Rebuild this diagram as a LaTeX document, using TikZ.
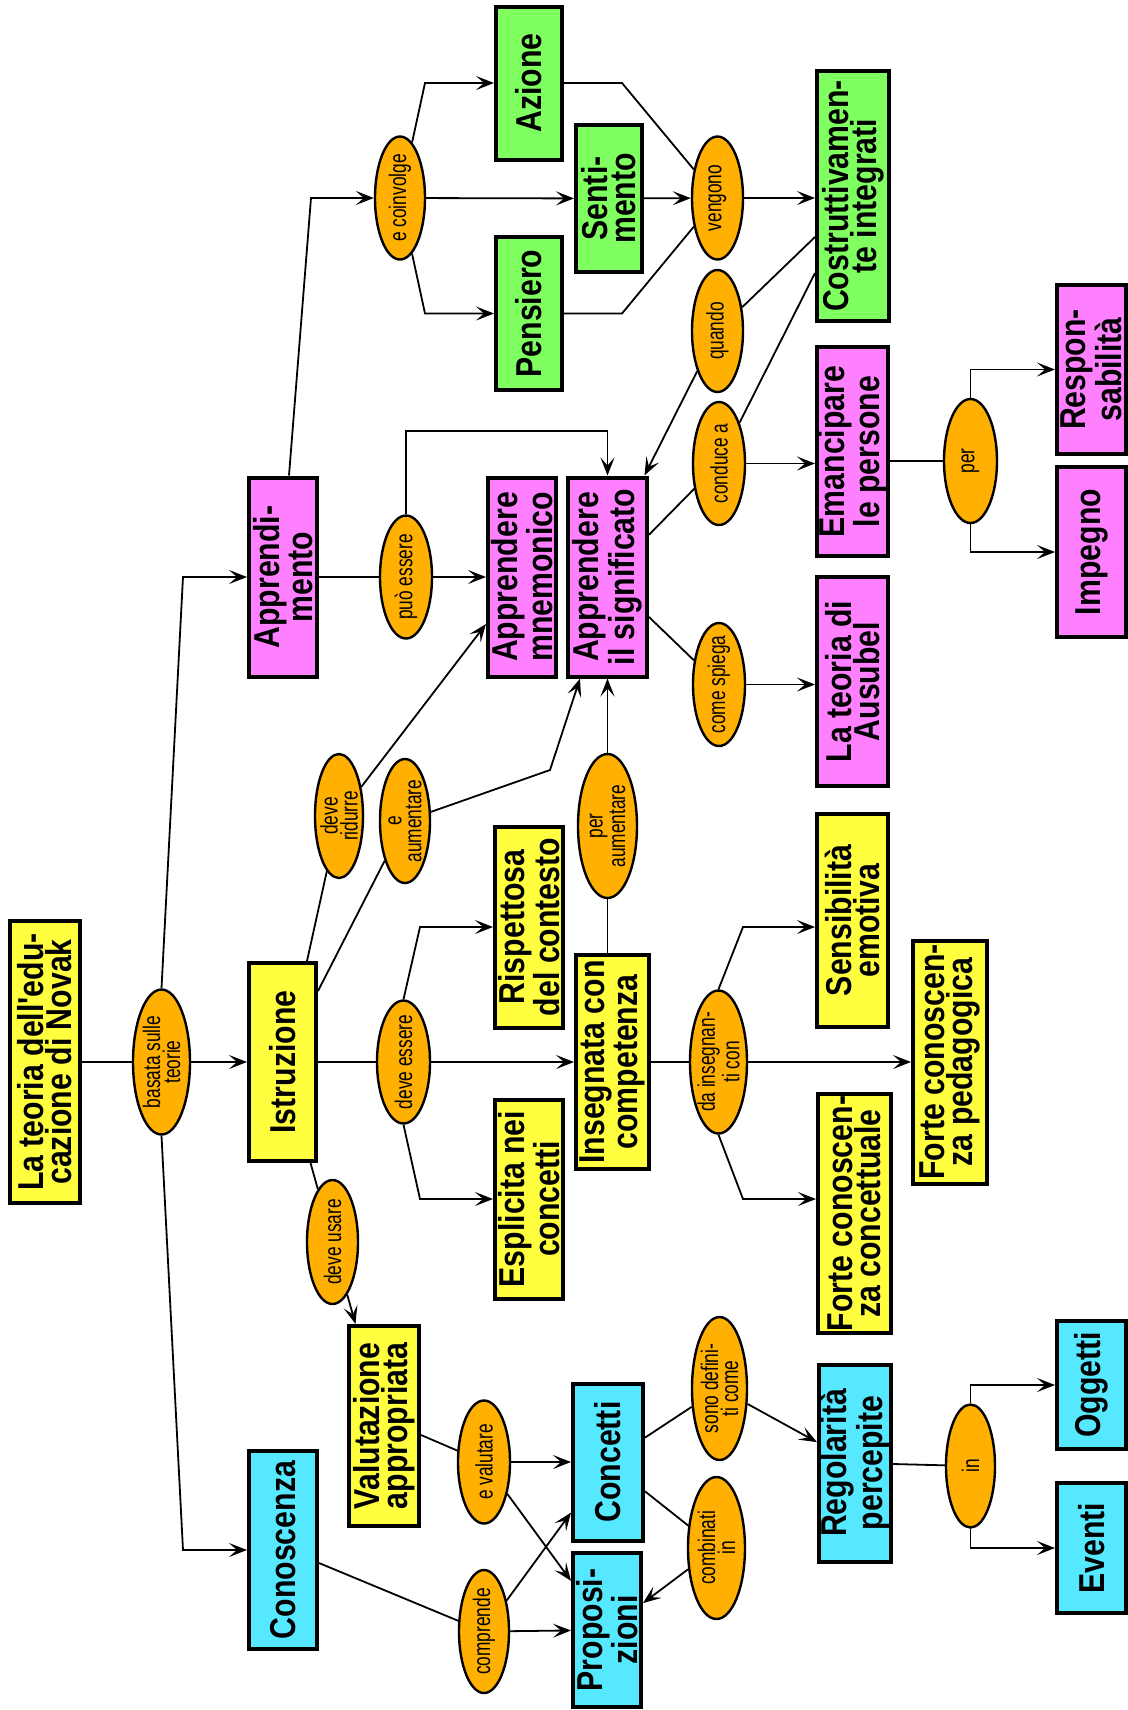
\documentclass[tikz,border=0pt]{standalone}
\usepackage{fontspec}
\setmainfont{Liberation Sans}
\newfontfamily\boxfont[FakeStretch=0.84]{Liberation Sans}
\newfontfamily\ovalfont[FakeStretch=0.72]{Liberation Sans}
\usetikzlibrary{shapes.geometric,arrows.meta,calc}
\definecolor{cyel}{RGB}{255,255,64}
\definecolor{cpink}{RGB}{255,128,255}
\definecolor{cgreen}{RGB}{128,255,96}
\definecolor{ccyan}{RGB}{85,232,255}
\definecolor{corange}{RGB}{255,176,0}
\tikzset{
 con/.style={line width=0.9pt},
 arr/.style={con,-{Stealth[length=9pt,width=7pt,inset=4pt]}},
 cbox/.style={draw, line width=2pt, rotate=90, inner sep=0pt, align=center,
   font=\boxfont\bfseries\fontsize{18pt}{14pt}\selectfont},
 coval/.style={draw, ellipse, fill=corange, line width=1.2pt, rotate=90,
   inner xsep=-25pt, inner ysep=-25pt, align=center,
   font=\ovalfont\fontsize{12pt}{10pt}\selectfont},
}
\newcommand\mybox[7]{\node[cbox,fill=#2,minimum width=#6*0.5pt,minimum height=#5*0.5pt] (#1) at (#3,#4) {#7};}
\newcommand\myoval[6]{\node[coval,minimum width=#5*0.5pt,minimum height=#4*0.5pt] (#1) at (#2,#3) {#6};}
\begin{document}
\begin{tikzpicture}[x=0.5pt,y=-0.5pt]
\fill[white] (0,0) rectangle (1128,1710);
\useasboundingbox (0,0) rectangle (1128,1710);
% boxes
\mybox{novak}{cyel}{45}{1062}{70}{282}{La teoria dell'edu-\\cazione di Novak}
\mybox{istr}{cyel}{282.5}{1062}{67}{198}{Istruzione}
\mybox{appr}{cpink}{283}{577}{68}{199}{Apprendi-\\mento}
\mybox{conosc}{ccyan}{283}{1550}{68}{198}{Conoscenza}
\mybox{mn}{cpink}{522}{577}{68}{199}{Apprendere\\mnemonico}
\mybox{appsig}{cpink}{607.5}{577}{79}{199}{Apprendere\\il significato}
\mybox{risp}{cyel}{529}{927}{68}{201}{Rispettosa\\del contesto}
\mybox{espl}{cyel}{529}{1199}{68}{199}{Esplicita nei\\concetti}
\mybox{ins}{cyel}{612.5}{1062}{73}{214}{Insegnata con\\competenza}
\mybox{val}{cyel}{384}{1426}{70}{200}{Valutazione\\appropriata}
\mybox{sens}{cyel}{852.5}{920.5}{71}{213}{Sensibilità\\emotiva}
\mybox{fc}{cyel}{854.5}{1213.5}{73}{239}{Forte conoscen-\\za concettuale}
\mybox{fp}{cyel}{950}{1062}{74}{243}{Forte conoscen-\\za pedagogica}
\mybox{aus}{cpink}{852.5}{681.5}{71}{209}{La teoria di\\Ausubel}
\mybox{eman}{cpink}{852.5}{451.5}{71}{209}{Emancipare\\le persone}
\mybox{resp}{cpink}{1091.5}{369.5}{69}{169}{Respon-\\sabilità}
\mybox{imp}{cpink}{1091.5}{552}{69}{170}{Impegno}
\mybox{azione}{cgreen}{529}{83}{66}{153}{Azione}
\mybox{sent}{cgreen}{609}{198.5}{66}{147}{Senti-\\mento}
\mybox{pens}{cgreen}{529}{313.5}{66}{153}{Pensiero}
\mybox{costr}{cgreen}{853}{196}{72}{250}{Costruttivamen-\\te integrati}
\mybox{conc}{ccyan}{608}{1462}{70}{157}{Concetti}
\mybox{prop}{ccyan}{607}{1630}{68}{154}{Proposi-\\zioni}
\mybox{reg}{ccyan}{855}{1463}{72}{197}{Regolarità\\percepite}
\mybox{ogg}{ccyan}{1091.5}{1385}{69}{128}{Oggetti}
\mybox{event}{ccyan}{1091.5}{1548}{69}{130}{Eventi}
% ovals
\myoval{basata}{161.5}{1062}{57}{145}{basata sulle\\teorie}
\myoval{du}{332.5}{1242}{51}{124}{deve usare}
\myoval{dr}{339}{816}{48}{124}{deve\\ridurre}
\myoval{ea}{405}{821}{50}{124}{e\\aumentare}
\myoval{de}{403.5}{1062}{53}{123}{deve essere}
\myoval{pe}{406}{577}{52}{123}{può essere}
\myoval{pa}{607.5}{826}{59}{144}{per\\aumentare}
\myoval{di}{718.5}{1062}{57}{143}{da insegnan-\\ti con}
\myoval{cs}{719}{684.5}{52}{123}{come spiega}
\myoval{cond}{719}{463.5}{52}{123}{conduce a}
\myoval{quando}{717.5}{331}{51}{122}{quando}
\myoval{ven}{717.5}{198}{51}{123}{vengono}
\myoval{ec}{400}{198}{50}{123}{e coinvolge}
\myoval{per}{970.5}{461}{53}{124}{per}
\myoval{inov}{970.5}{1466}{49}{123}{in}
\myoval{ev}{484}{1462}{52}{123}{e valutare}
\myoval{comp}{484}{1631.5}{50}{123}{comprende}
\myoval{sd}{719.5}{1388.5}{55}{143}{sono defini-\\ti come}
\myoval{ci}{716.5}{1548}{57}{142}{combinati\\in}
% bend points
\coordinate (c1) at (183,577);
\coordinate (c2) at (183,1550);
\coordinate (c3) at (550,770);
\coordinate (c5) at (420,927);
\coordinate (c6) at (420,1199);
\coordinate (c7) at (743,927);
\coordinate (c8) at (743,1199);
\coordinate (c9) at (607.5,431);
\coordinate (c10) at (311,198);
\coordinate (c11) at (425,83);
\coordinate (c12) at (425,313.5);
\coordinate (c13) at (622,83);
\coordinate (c14) at (622,313.5);
% connectors
\draw[con] (novak) -- (basata);
\draw[arr] (basata) -- (istr);
\draw[arr] (basata.east) -- (c1) -- (appr);
\draw[arr] (basata.west) -- (c2) -- (conosc);
\draw[con] (307,0 |- istr.east) -- (dr);
\draw[con] (istr.south |- 0,991) -- (ea);
\draw[arr] (dr) -- (mn);
\draw[arr] (ea) -- (c3) -- (580,0 |- appsig.west);
\draw[con] (istr) -- (du);
\draw[arr] (du) -- (val);
\draw[con] (istr) -- (de);
\draw[arr] (de) -- (ins);
\draw[arr] (de.east) -- (c5) -- (risp);
\draw[arr] (de.west) -- (c6) -- (espl);
\draw[con] (pa.west) -- (pa.west |- ins.east);
\draw[arr] (pa.east) -- (pa.east |- appsig.west);
\draw[con] (ins) -- (di);
\draw[arr] (di) -- (fp);
\draw[arr] (di.east) -- (c7) -- (sens.north |- c7);
\draw[arr] (di.west) -- (c8) -- (fc.north |- c8);
\draw[con] (appr) -- (pe);
\draw[arr] (pe) -- (mn);
\draw[arr] (pe.east) |- (c9) -- (appsig.east);
\draw[arr] (289,0 |- appr.east) -- (c10) -- (ec);
\draw[arr] (ec) -- (c11) -- (azione);
\draw[arr] (ec) -- (sent);
\draw[arr] (ec) -- (c12) -- (pens);
\draw[con] (azione) -- (c13) -- (ven);
\draw[arr] (sent) -- (ven);
\draw[con] (pens) -- (c14) -- (ven);
\draw[arr] (ven) -- (costr.north |- ven);
\draw[con] (costr.north |- 0,237) -- (quando);
\draw[arr] (quando) -- ($(appsig.east)+(37,0)$);
\draw[con] (costr.north |- 0,273) -- (cond);
\draw[con] (appsig) -- (cond);
\draw[arr] (cond) -- (eman.north |- cond);
\draw[con] (appsig) -- (cs);
\draw[arr] (cs) -- (aus.north |- cs);
\draw[con] (eman.south |- per) -- (per);
\draw[arr] (per.east) |- (resp);
\draw[arr] (per.west) |- (imp);
\draw[con] (conosc.south |- 0,1563) -- (comp);
\draw[con] (val.south |- 0,1435) -- (ev);
\draw[arr] (ev) -- (conc);
\draw[arr] (ev) -- (prop);
\draw[arr] (comp) -- (conc);
\draw[arr] (comp) -- (prop);
\draw[con] (conc) -- (sd);
\draw[arr] (sd) -- (reg);
\draw[con] (conc) -- (ci);
\draw[arr] (ci) -- (prop);
\draw[con] (reg) -- (inov);
\draw[arr] (inov.east) |- (ogg);
\draw[arr] (inov.west) |- (event);
\end{tikzpicture}
\end{document}
